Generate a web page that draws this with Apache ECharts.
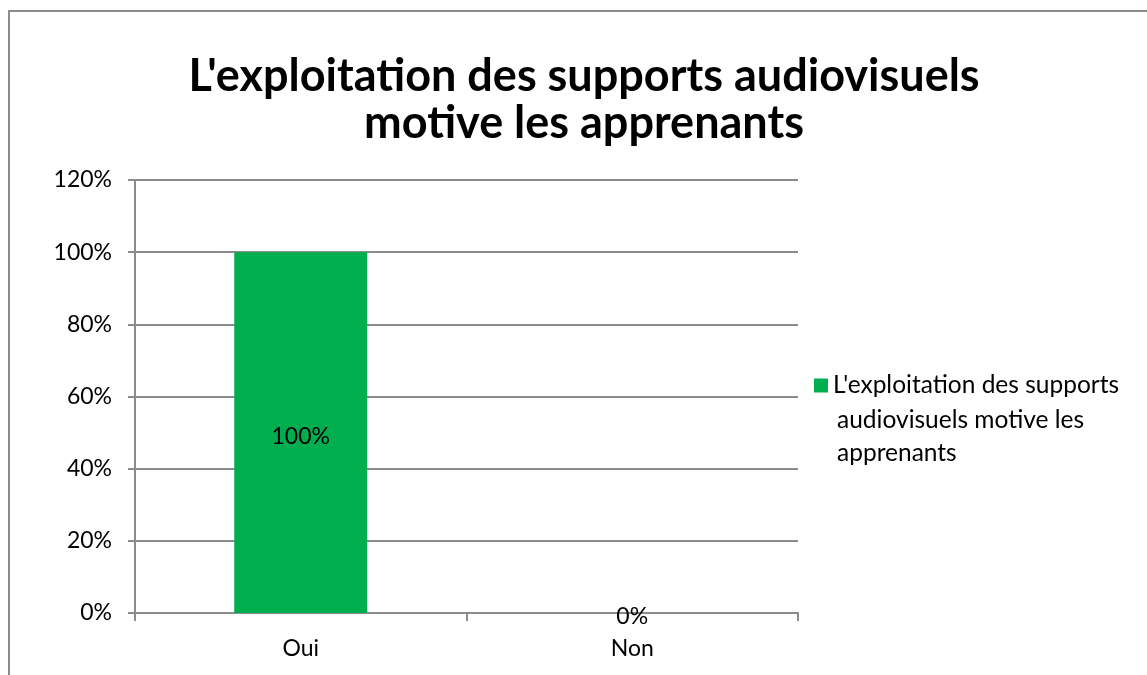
<!DOCTYPE html>
<html>
<head>
<meta charset="utf-8">
<script src="https://cdn.jsdelivr.net/npm/echarts@6/dist/echarts.min.js"></script>
<style>
  html, body { margin: 0; padding: 0; background: #fff; }
  .frame {
    position: absolute; left: 8px; top: 10px; width: 1200px; height: 700px;
    border-left: 2px solid #8c8c8c; border-top: 2px solid #8c8c8c;
  }
  #chart { position: absolute; left: 0; top: 0; width: 1147px; height: 675px; }
</style>
</head>
<body>
<div class="frame"></div>
<div id="chart"></div>
<script>
  var titleText = "L'exploitation des supports audiovisuels\nmotive les apprenants";
  var seriesName = "L'exploitation des supports audiovisuels motive les apprenants";
  // legend text is wrapped on 3 lines like in the original
  var legendLines = ["L'exploitation des supports", "audiovisuels motive les", "apprenants"];
  var categories = ['Oui', 'Non'];
  var values = [1.0, 0.0];

  var font = 'Lato, "Open Sans", sans-serif';
  var myChart = echarts.init(document.getElementById('chart'));

  var option = {
    animation: false,
    title: {
      text: titleText,
      left: 579,
      top: 48,
      textAlign: 'center',
      textStyle: { fontFamily: font, fontSize: 45, fontWeight: 'bold', color: '#000', lineHeight: 47 }
    },
    legend: {
      data: [seriesName],
      left: 814,
      top: 373,
      padding: 0,
      itemWidth: 14,
      itemHeight: 14,
      itemGap: 8,
      icon: 'rect',
      formatter: function () { return legendLines[0]; },
      textStyle: { fontFamily: font, fontSize: 24.5, color: '#000' }
    },
    graphic: [{
      type: 'text',
      left: 837,
      top: 404,
      style: {
        text: legendLines.slice(1).join('\n'),
        fontFamily: font, fontSize: 24.5, lineHeight: 33, fill: '#000'
      }
    }],
    grid: { left: 135, right: 349, top: 180, bottom: 62 },
    xAxis: {
      type: 'category',
      data: categories,
      axisLine: { lineStyle: { color: '#8c8c8c', width: 2 } },
      axisTick: { show: true, length: 8, lineStyle: { color: '#8c8c8c', width: 2 } },
      axisLabel: { fontFamily: font, fontSize: 23, color: '#000', margin: 24 }
    },
    yAxis: {
      type: 'value',
      min: 0,
      max: 1.2,
      interval: 0.2,
      axisLine: { show: true, lineStyle: { color: '#8c8c8c', width: 2 } },
      axisTick: { show: true, length: 7, lineStyle: { color: '#8c8c8c', width: 2 } },
      splitLine: { lineStyle: { color: '#8c8c8c', width: 2 } },
      axisLabel: {
        fontFamily: font, fontSize: 23, color: '#000', margin: 23,
        formatter: function (v) { return Math.round(v * 100) + '%'; }
      }
    },
    series: [{
      name: seriesName,
      type: 'bar',
      data: values,
      barWidth: 133,
      itemStyle: { color: '#00ae4f' },
      label: {
        show: true,
        position: 'inside',
        offset: [0, 4],
        fontFamily: font, fontSize: 23, color: '#000',
        formatter: function (p) { return Math.round(p.value * 100) + '%'; }
      }
    }]
  };

  myChart.setOption(option);
  window.onresize = () => myChart.resize()
</script>
</body>
</html>
